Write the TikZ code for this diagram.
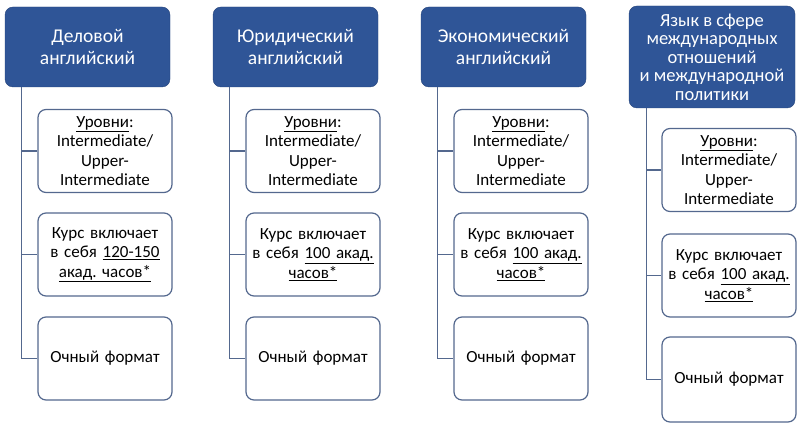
\documentclass[tikz,border=0pt]{standalone}
\usepackage{fontspec}
\setmainfont{Carlito}
\usepackage{tikz}
\usetikzlibrary{positioning}
\frenchspacing

\begin{document}
\begin{tikzpicture}[x=1pt,y=-1pt]
    \definecolor{cHead}{RGB}{47,85,151}\definecolor{cHeadB}{RGB}{38,68,122}
    \definecolor{cLine}{RGB}{84,104,142}
    \tikzset{
      head/.style={draw=cHeadB,fill=cHead,rounded corners=8pt,text=white,
        minimum width=165pt,minimum height=80pt,align=center,inner sep=2pt,
        font=\fontsize{19.5}{21.5}\selectfont},
      item/.style={draw=cLine,fill=white,rounded corners=8pt,line width=1.2pt,
        minimum width=134pt,minimum height=83pt,align=center,text width=128pt,inner sep=2pt,
        font=\fontsize{17}{19.5}\selectfont},
      link/.style={cLine,line width=1.3pt}
    }
    \useasboundingbox (0,0) rectangle (800,427);
    % ---------- column 1 ----------
    \node[head] (h1) at (87.5,47) {Деловой\\ английский};
    \node[item] (a1) at (105,151) {\underline{Уровни}:\\ Intermediate/\\ Upper-\\ Intermediate};
    \node[item] (b1) at (105,254.5) {Курс включает\\ в себя \underline{120-150}\\ \underline{акад. часов*}};
    \node[item] (c1) at (105,358.5) {Очный формат};
    \draw[link] ([xshift=17pt]h1.south west) |- (a1.west);
    \draw[link] ([xshift=17pt]h1.south west) |- (b1.west);
    \draw[link] ([xshift=17pt]h1.south west) |- (c1.west);
    % ---------- column 2 ----------
    \node[head] (h2) at (295.5,47) {Юридический\\ английский};
    \node[item] (a2) at (313,151) {\underline{Уровни}:\\ Intermediate/\\ Upper-\\ Intermediate};
    \node[item] (b2) at (313,254.5) {Курс включает\\ в себя \underline{100 акад.}\\ \underline{часов*}};
    \node[item] (c2) at (313,358.5) {Очный формат};
    \draw[link] ([xshift=17pt]h2.south west) |- (a2.west);
    \draw[link] ([xshift=17pt]h2.south west) |- (b2.west);
    \draw[link] ([xshift=17pt]h2.south west) |- (c2.west);
    % ---------- column 3 ----------
    \node[head] (h3) at (503.5,47) {Экономический\\ английский};
    \node[item] (a3) at (521,151) {\underline{Уровни}:\\ Intermediate/\\ Upper-\\ Intermediate};
    \node[item] (b3) at (521,254.5) {Курс включает\\ в себя \underline{100 акад.}\\ \underline{часов*}};
    \node[item] (c3) at (521,358.5) {Очный формат};
    \draw[link] ([xshift=17pt]h3.south west) |- (a3.west);
    \draw[link] ([xshift=17pt]h3.south west) |- (b3.west);
    \draw[link] ([xshift=17pt]h3.south west) |- (c3.west);
    % ---------- column 4 ----------
    \node[head,minimum width=166pt,minimum height=102pt,font=\fontsize{18.5}{18.5}\selectfont] (h4) at (712,57)
      {Язык в сфере\\ международных\\ отношений\\ и международной\\ политики};
    \node[item] (a4) at (729,170) {\underline{Уровни}:\\ Intermediate/\\ Upper-\\ Intermediate};
    \node[item] (b4) at (729,275.5) {Курс включает\\ в себя \underline{100 акад.}\\ \underline{часов*}};
    \node[item,minimum height=85pt] (c4) at (729,379.5) {Очный формат};
    \draw[link] ([xshift=18pt]h4.south west) |- (a4.west);
    \draw[link] ([xshift=18pt]h4.south west) |- (b4.west);
    \draw[link] ([xshift=18pt]h4.south west) |- (c4.west);
\end{tikzpicture}
\end{document}
